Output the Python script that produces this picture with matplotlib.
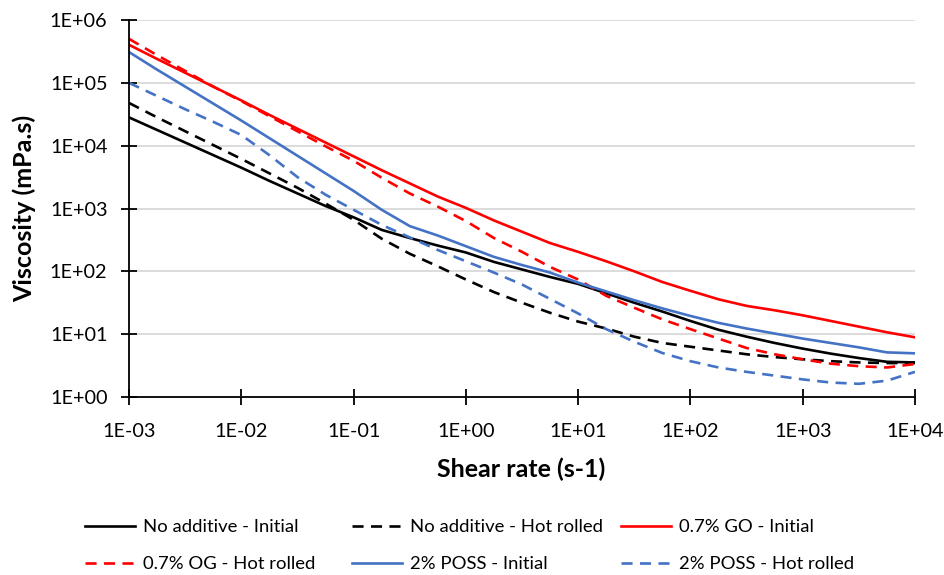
import numpy as np
import matplotlib
matplotlib.use("Agg")
import matplotlib.pyplot as plt

# Shear rate (s-1): log10 values, quarter decades from 1E-03 to 1E+04
log_rate = [-3.0, -2.75, -2.5, -2.25, -2.0, -1.75, -1.5, -1.25, -1.0, -0.75, -0.5, -0.25,
            0.0, 0.25, 0.5, 0.75, 1.0, 1.25, 1.5, 1.75, 2.0, 2.25, 2.5, 2.75,
            3.0, 3.25, 3.5, 3.75, 4.0]
shear_rate = [10 ** v for v in log_rate]

# log10 of viscosity (mPa.s)
no_add_init = [4.45, 4.25, 4.05, 3.85, 3.65, 3.44, 3.24, 3.04, 2.86, 2.66, 2.53, 2.41,
               2.30, 2.15, 2.03, 1.91, 1.80, 1.65, 1.50, 1.36, 1.21, 1.07, 0.96, 0.86,
               0.77, 0.69, 0.62, 0.56, 0.55]
no_add_hot = [4.68, 4.45, 4.23, 4.01, 3.79, 3.56, 3.33, 3.08, 2.82, 2.52, 2.28, 2.08,
              1.87, 1.67, 1.50, 1.34, 1.20, 1.09, 0.96, 0.86, 0.80, 0.74, 0.68, 0.635,
              0.60, 0.57, 0.55, 0.54, 0.54]
go_init = [5.605, 5.38, 5.16, 4.94, 4.72, 4.49, 4.27, 4.05, 3.83, 3.61, 3.40, 3.19,
           3.01, 2.81, 2.63, 2.45, 2.31, 2.16, 2.00, 1.83, 1.69, 1.555, 1.45, 1.38,
           1.30, 1.21, 1.12, 1.03, 0.95]
og_hot = [5.70, 5.44, 5.19, 4.94, 4.71, 4.47, 4.23, 3.99, 3.76, 3.49, 3.24, 3.03,
          2.80, 2.53, 2.31, 2.07, 1.87, 1.61, 1.42, 1.235, 1.08, 0.93, 0.78, 0.68,
          0.60, 0.53, 0.49, 0.47, 0.525]
poss_init = [5.49, 5.21, 4.94, 4.67, 4.40, 4.12, 3.84, 3.56, 3.28, 2.98, 2.72, 2.57,
             2.40, 2.23, 2.10, 1.98, 1.82, 1.68, 1.54, 1.41, 1.29, 1.18, 1.09, 1.01,
             0.93, 0.86, 0.79, 0.71, 0.695]
poss_hot = [5.00, 4.79, 4.58, 4.38, 4.17, 3.85, 3.50, 3.22, 2.98, 2.74, 2.54, 2.34,
            2.16, 1.98, 1.79, 1.56, 1.33, 1.08, 0.88, 0.70, 0.57, 0.47, 0.40, 0.34,
            0.28, 0.23, 0.21, 0.26, 0.40]

labels = ["No additive - Initial", "No additive - Hot rolled", "0.7% GO - Initial",
          "0.7% OG - Hot rolled", "2% POSS - Initial", "2% POSS - Hot rolled"]
series = [no_add_init, no_add_hot, go_init, og_hot, poss_init, poss_hot]
colors = ["#000000", "#000000", "#ff0000", "#ff0000", "#4472c4", "#4472c4"]
dash = (0, (4.2, 2.8))
styles = ["-", dash, "-", dash, "-", dash]

xticks = [1e-3, 1e-2, 1e-1, 1e0, 1e1, 1e2, 1e3, 1e4]
xtick_labels = ["1E-03", "1E-02", "1E-01", "1E+00", "1E+01", "1E+02", "1E+03", "1E+04"]
yticks = [1e0, 1e1, 1e2, 1e3, 1e4, 1e5, 1e6]
ytick_labels = ["1E+00", "1E+01", "1E+02", "1E+03", "1E+04", "1E+05", "1E+06"]

plt.rcParams['font.family'] = ['Lato', 'DejaVu Sans']

W, H = 945, 575
fig = plt.figure(figsize=(W / 100, H / 100), dpi=100)
ax = fig.add_axes([129 / W, 1 - 397 / H, (915 - 129) / W, (397 - 20) / H])

handles = []
for vals, lab, c, ls in zip(series, labels, colors, styles):
    h, = ax.plot(shear_rate, [10 ** v for v in vals], color=c, linestyle=ls,
                 linewidth=1.9, label=lab)
    handles.append(h)

ax.set_xscale('log')
ax.set_yscale('log')
ax.set_xlim(1e-3, 1e4)
ax.set_ylim(1e0, 1e6)
ax.set_xticks(xticks)
ax.set_xticklabels(xtick_labels)
ax.set_yticks(yticks)
ax.set_yticklabels(ytick_labels)
ax.minorticks_off()
ax.tick_params(axis='both', which='major', direction='inout', length=11, width=1.3,
               labelsize=14.3, colors='#000000')
ax.tick_params(axis='y', pad=10)
ax.tick_params(axis='x', pad=13)
ax.grid(axis='y', color='#d9d9d9', linewidth=1.3)
ax.set_axisbelow(True)
for s in ['top', 'right']:
    ax.spines[s].set_visible(False)
for s in ['left', 'bottom']:
    ax.spines[s].set_linewidth(1.3)
    ax.spines[s].set_color('#000000')

ax.set_xlabel("Shear rate (s-1)", fontsize=18, fontweight='bold')
ax.set_ylabel("Viscosity (mPa.s)", fontsize=18, fontweight='bold')
ax.xaxis.set_label_coords((521 - 129) / 786, (397 - 458) / 377)
ax.yaxis.set_label_coords((36 - 129) / 786, 0.5)

# Legend: three columns placed at fixed positions, two rows each
col_x = [85, 352, 621]
for j in range(3):
    idx = [j, j + 3]
    fig.legend([handles[i] for i in idx], [labels[i] for i in idx],
               loc='upper left', bbox_to_anchor=(col_x[j] / W, 1 - 519 / H),
               frameon=False, fontsize=13.3, handlelength=2.7, handletextpad=0.45,
               labelspacing=1.15, borderpad=0, borderaxespad=0)

fig.savefig("out.png", dpi=100)
